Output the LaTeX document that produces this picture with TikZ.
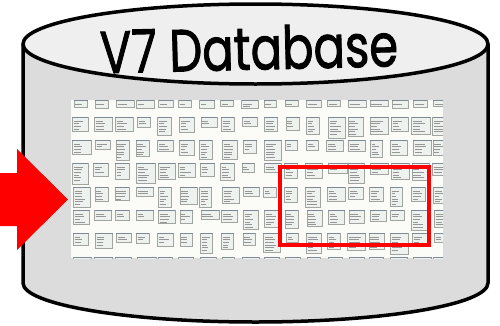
\documentclass[tikz,border=0pt]{standalone}
\usepackage{fontspec}
\newfontfamily\titlefont[FakeBold=1.6]{Poppins}
\definecolor{bodygray}{RGB}{220,220,220}
\definecolor{topgray}{RGB}{239,239,239}
\definecolor{shotbg}{RGB}{251,251,247}
\definecolor{tblfill}{RGB}{238,242,238}
\definecolor{tbledge}{RGB}{160,165,160}
\definecolor{tblhdr}{RGB}{125,138,150}
\definecolor{tbltext}{RGB}{150,150,150}
\tikzset{
  cyl/.style={line width=3.5pt, draw=black, line join=round},
  tbl/.style={fill=tblfill, draw=tbledge, line width=0.5pt},
  hdr/.style={fill=tblhdr},
  tline/.style={draw=tbltext, line width=0.45pt},
  zoombox/.style={draw=red, line width=4pt},
  bigarrow/.style={fill=red, draw=none}
}
\begin{document}
\begin{tikzpicture}[x=1pt,y=1pt]
\useasboundingbox (0,0) rectangle (500,325);
% cylinder body
\path[cyl, fill=bodygray] (23,281) -- (23,42)
  arc[start angle=180, end angle=360, x radius=232.5, y radius=39]
  -- (488,281) -- cycle;
% top ellipse
\path[cyl, fill=topgray] (255.5,281) ellipse [x radius=232.5, y radius=40];
% title
\node[rotate=1.4, inner sep=0pt] (title) at (249,277)
  {\resizebox{298pt}{44pt}{\titlefont V7 Database}};
% screenshot of tables
\fill[shotbg] (71,67) rectangle (443,225);
\begin{scope}
\clip (71,67) rectangle (443,225);
\pgfmathsetseed{42}
\foreach \ry in {100,117,140,163,187,210,233,257}{
  \foreach \c in {0,...,17}{
    \pgfmathsetmacro\bw{12+7*rnd}
    \pgfmathsetmacro\bh{\ry==100 ? 6+3*rnd : 9+12*rnd}
    \pgfmathsetmacro\bx{72+\c*21.2+2*rnd}
    \pgfmathsetmacro\by{325-\ry}
    \path[tbl] (\bx,\by) rectangle ++(\bw,-\bh);
    \path[hdr] (\bx,\by) rectangle ++(\bw,-1.3);
    \pgfmathtruncatemacro\nl{(\bh-3)/2.6}
    \ifnum\nl>0
      \foreach \k in {1,...,\nl}{
        \pgfmathsetmacro\ll{\bw*(0.3+0.35*rnd)}
        \path[tline] (\bx+1.5,\by-1.5-\k*2.6) -- ++(\ll,0);
      }
    \fi
  }
}
\end{scope}
% red highlight box
\path[zoombox] (280,158) rectangle (429,80);
% red arrow
\path[bigarrow] (0,152) -- (17,152) -- (17,176) -- (68,125.5)
  -- (17,75) -- (17,99) -- (0,99) -- cycle;
\end{tikzpicture}
\end{document}
